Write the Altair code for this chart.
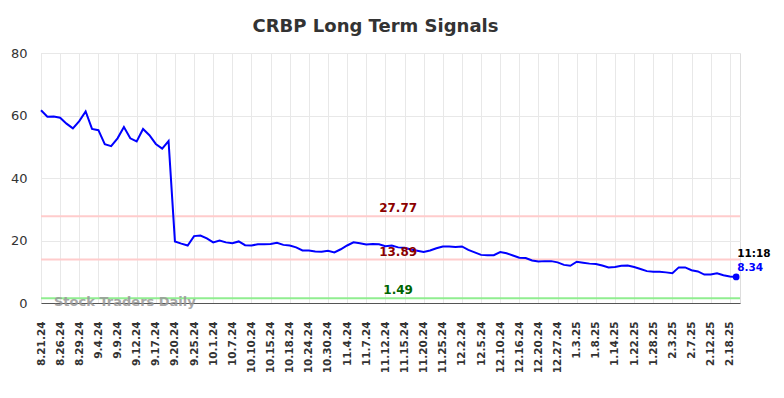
import json
import altair as alt
import pandas as pd

# ---- data ----
values = [
    61.7, 59.6, 59.7, 59.3, 57.4, 55.9, 58.2, 61.3, 55.7, 55.3,
    50.8, 50.2, 52.7, 56.3, 52.7, 51.7, 55.7, 53.7, 50.9, 49.4,
    51.8, 19.7, 19.0, 18.4, 21.4, 21.6, 20.7, 19.4, 20.0, 19.4,
    19.1, 19.7, 18.5, 18.4, 18.8, 18.8, 18.9, 19.3, 18.6, 18.4,
    17.8, 16.8, 16.8, 16.5, 16.4, 16.7, 16.2, 17.2, 18.4, 19.4,
    19.1, 18.7, 18.9, 18.8, 18.2, 18.4, 17.8, 17.7, 17.1, 16.7,
    16.3, 16.8, 17.5, 18.1, 18.1, 17.9, 18.1, 17.0, 16.2, 15.4,
    15.3, 15.3, 16.3, 15.9, 15.2, 14.5, 14.4, 13.6, 13.3, 13.4,
    13.4, 13.0, 12.2, 11.9, 13.2, 12.9, 12.6, 12.5, 12.0, 11.4,
    11.5, 11.9, 12.0, 11.5, 10.9, 10.2, 10.0, 10.0, 9.8, 9.5,
    11.4, 11.4, 10.5, 10.1, 9.1, 9.1, 9.5, 8.9, 8.5, 8.34,
]
tick_labels = [
    "8.21.24", "8.26.24", "8.29.24", "9.4.24", "9.9.24", "9.12.24", "9.17.24",
    "9.20.24", "9.25.24", "10.1.24", "10.7.24", "10.10.24", "10.15.24",
    "10.18.24", "10.24.24", "10.30.24", "11.4.24", "11.7.24", "11.12.24",
    "11.15.24", "11.20.24", "11.25.24", "12.2.24", "12.5.24", "12.10.24",
    "12.16.24", "12.20.24", "12.27.24", "1.3.25", "1.8.25", "1.14.25",
    "1.22.25", "1.28.25", "2.3.25", "2.7.25", "2.12.25", "2.18.25",
]
tick_step = 3
level_values = [27.77, 13.89, 1.49]
level_line_colors = ["#ffcccc", "#ffcccc", "#90ee90"]
level_text_colors = ["#8b0000", "#8b0000", "#006400"]
level_label_index = 56
last_time = "11:18"

df = pd.DataFrame({"i": list(range(len(values))), "v": values})
levels = pd.DataFrame({
    "level": level_values,
    "line": level_line_colors,
    "tc": level_text_colors,
    "label": [f"{v:.2f}" for v in level_values],
    "i": [level_label_index] * len(level_values),
})
last = df.tail(1).copy()
last["vlabel"] = last["v"].map(lambda v: f"{v:.2f}")
last["tlabel"] = last_time

FONT = "DejaVu Sans"
xscale = alt.Scale(domain=[0, 109.6], nice=False, zero=False)
yscale = alt.Scale(domain=[0, 80], nice=False)

label_expr = json.dumps(tick_labels) + f"[round(datum.value/{tick_step})]"

x_axis = alt.Axis(
    values=list(range(0, tick_step * len(tick_labels), tick_step)),
    tickCount=100,
    labelExpr=label_expr, labelAngle=-90, labelFont=FONT, labelFontSize=10.5,
    labelFontWeight="bold", labelColor="#333333", labelPadding=18,
    labelOverlap=False, labelBound=False, labelFlush=False,
    ticks=False, grid=True, gridColor="#e8e8e8", gridWidth=1,
    domain=True, domainColor="#555555", domainWidth=1.2, title=None,
)
y_axis = alt.Axis(
    values=[0, 20, 40, 60, 80], labelFont=FONT, labelFontSize=13,
    labelColor="#333333", labelPadding=14, ticks=False, domain=False,
    grid=True, gridColor="#e8e8e8", gridWidth=1, title=None,
)

line = alt.Chart(df).mark_line(color="#0000ff", strokeWidth=2).encode(
    x=alt.X("i:Q", scale=xscale, axis=x_axis),
    y=alt.Y("v:Q", scale=yscale, axis=y_axis),
)

rules = alt.Chart(levels).mark_rule(strokeWidth=2).encode(
    y=alt.Y("level:Q", scale=yscale),
    color=alt.Color("line:N", scale=None),
)

level_text = alt.Chart(levels).mark_text(
    font=FONT, fontSize=12, fontWeight="bold", align="center",
    baseline="alphabetic", dy=-4,
).encode(
    x=alt.X("i:Q", scale=xscale),
    y=alt.Y("level:Q", scale=yscale),
    text="label:N",
    color=alt.Color("tc:N", scale=None),
)

watermark = alt.Chart(df.head(1)).mark_text(
    text="Stock Traders Daily", font=FONT, fontSize=13, fontWeight="bold",
    color="#999999", opacity=0.85, align="left", baseline="alphabetic",
).encode(x=alt.value(13), y=alt.value(253))

point = alt.Chart(last).mark_point(
    filled=True, color="#0000ff", size=45, opacity=1, shape="circle"
).encode(x=alt.X("i:Q", scale=xscale), y=alt.Y("v:Q", scale=yscale))

val_text = alt.Chart(last).mark_text(
    font=FONT, fontSize=10.5, fontWeight="bold", color="#0000ff",
    align="left", baseline="alphabetic", dx=1, dy=-6,
).encode(x=alt.X("i:Q", scale=xscale), y=alt.Y("v:Q", scale=yscale), text="vlabel:N")

time_text = alt.Chart(last).mark_text(
    font=FONT, fontSize=10.5, fontWeight="bold", color="#000000",
    align="left", baseline="alphabetic", dx=1, dy=-20,
).encode(x=alt.X("i:Q", scale=xscale), y=alt.Y("v:Q", scale=yscale), text="tlabel:N")

chart = alt.layer(rules, line, level_text, watermark, point, val_text, time_text).properties(
    width=699, height=250,
    title=alt.TitleParams(
        "CRBP Long Term Signals", font=FONT, fontSize=18, fontWeight="bold",
        color="#333333", anchor="middle", frame="group", dx=-15, offset=11,
    ),
    autosize=alt.AutoSizeParams(type="none"),
    padding={"left": 33, "top": 45, "right": 36, "bottom": 87},
).configure_view(stroke=None).configure(background="white")

chart.save("out.html", embed_options={"renderer": "svg", "actions": False})
